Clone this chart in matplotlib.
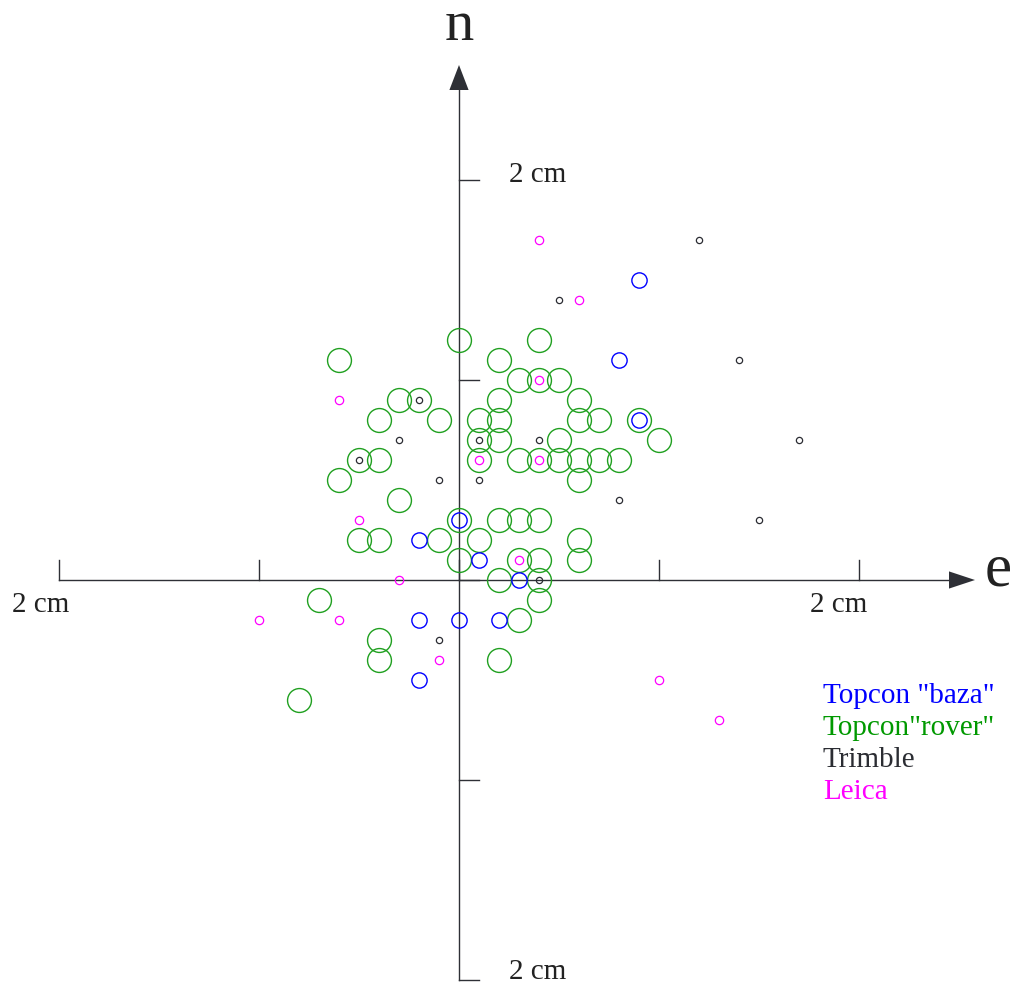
# ── Scatter of e/n offsets for four GNSS receivers (values in mm) ─────────────
import matplotlib
matplotlib.use("Agg")
import matplotlib.pyplot as plt

# ── Data ──────────────────────────────────────────────────────────────────────
rover_e = [0, 4, -6, 2, 3, 4, 5, -3, -2, 2, 6, -4, -1, 1, 2, 6, 7, 9, 1, 2, 5, 10,
           -5, -4, 1, 3, 4, 5, 6, 7, 8, -6, 6, -3, 0, 2, 3, 4, -5, -4, -1, 1, 6,
           0, 3, 4, 6, 2, 4, 4, -7, 3, -4, -4, 2, -8]
rover_n = [12, 12, 11, 11, 10, 10, 10, 9, 9, 9, 9, 8, 8, 8, 8, 8, 8, 8, 7, 7, 7, 7,
           6, 6, 6, 6, 6, 6, 6, 6, 6, 5, 5, 4, 3, 3, 3, 3, 2, 2, 2, 2, 2,
           1, 1, 1, 1, 0, 0, -1, -1, -2, -3, -4, -4, -6]

baza_e = [9, 8, 9, 0, -2, 1, 3, -2, 0, 2, -2]
baza_n = [15, 11, 8, 3, 2, 1, 0, -2, -2, -2, -5]

trimble_e = [12, 5, 14, -2, -3, 1, 4, 17, -5, -1, 1, 8, 15, 4, -1]
trimble_n = [17, 14, 11, 9, 7, 7, 7, 7, 6, 5, 5, 4, 3, 0, -3]

leica_e = [4, 6, 4, -6, 1, 4, -5, 3, -3, -10, -6, -1, 10, 13]
leica_n = [17, 14, 10, 9, 6, 6, 3, 1, 0, -2, -2, -4, -5, -7]

legend_labels = ['Topcon "baza"', 'Topcon"rover"', "Trimble", "Leica"]
legend_colors = ["#0000ff", "#009900", "#2b2d33", "#ff00ff"]

axis_ticks = [-20, -10, 0, 10, 20]

# ── Figure: one axes filling the canvas, 20 px per mm ─────────────────────────
fig = plt.figure(figsize=(10.19, 9.83), dpi=100)
ax = fig.add_axes([0, 0, 1, 1])
ax.set_xlim(-22.95, 28.0)
ax.set_ylim(-20.15, 29.0)
ax.axis("off")

axc = "#2e3036"
serif = ["Liberation Serif", "DejaVu Serif"]

# axes with arrows
ax.plot([-20, 24.6], [0, 0], color=axc, lw=1.0)
ax.plot([0, 0], [-20, 24.6], color=axc, lw=1.0)
ax.fill([24.5, 25.8, 24.5], [0.43, 0, -0.43], color=axc, lw=0)
ax.fill([-0.48, 0, 0.48], [24.5, 25.75, 24.5], color=axc, lw=0)

for t in axis_ticks:
    ax.plot([t, t], [0, 1], color=axc, lw=1.0)
    ax.plot([0, 1], [t, t], color=axc, lw=1.0)

# ── Points ────────────────────────────────────────────────────────────────────
ax.plot(rover_e, rover_n, "o", ms=17.2, mfc="none", mec="#1fa01f", mew=1.0)
ax.plot(baza_e, baza_n, "o", ms=11.0, mfc="none", mec="#0000ff", mew=1.0)
ax.plot(trimble_e, trimble_n, "o", ms=4.5, mfc="none", mec="#2b2d33", mew=0.9)
ax.plot(leica_e, leica_n, "o", ms=6.0, mfc="none", mec="#ff00ff", mew=0.9)

# ── Labels ────────────────────────────────────────────────────────────────────
ax.text(0, 27.0, "n", fontsize=42, family=serif, color="#222", ha="center", va="baseline")
ax.text(26.3, -0.25, "e", fontsize=44, family=serif, color="#222", ha="left", va="baseline")

for x, y in [(2.5, 19.9), (2.5, -19.95), (-22.35, -1.6), (17.55, -1.6)]:
    ax.text(x, y, "2 cm", fontsize=21, family=serif, color="#222", ha="left", va="baseline")

for i, (lab, col) in enumerate(zip(legend_labels, legend_colors)):
    ax.text(18.2, -6.15 - 1.6 * i, lab, fontsize=21, family=serif, color=col,
            ha="left", va="baseline")

fig.savefig("out.png", dpi=100)
